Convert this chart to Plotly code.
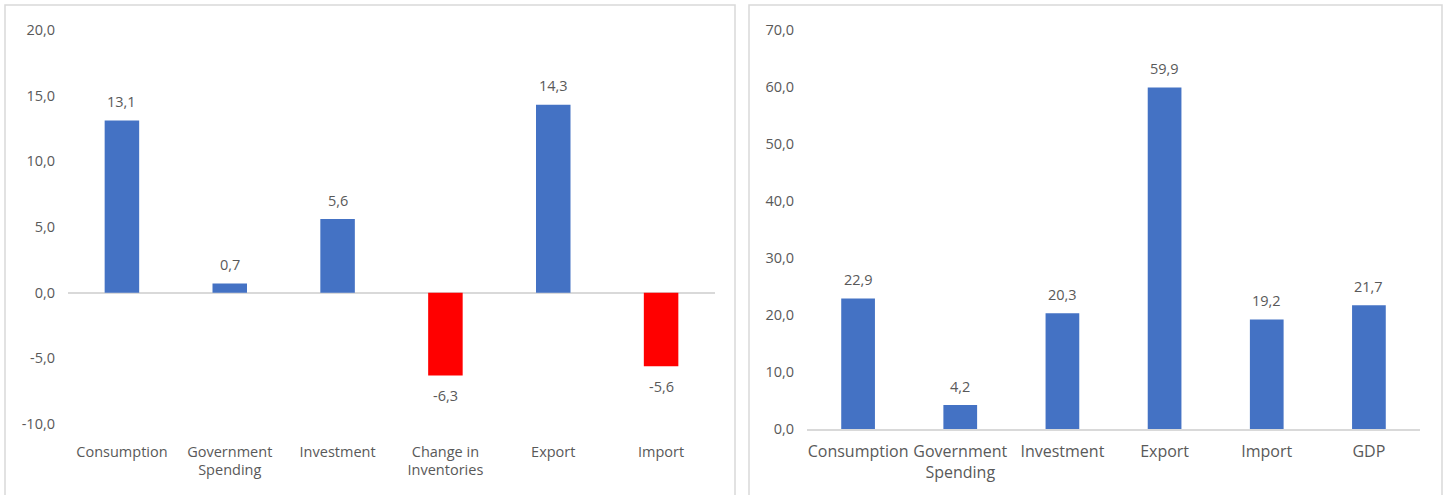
import plotly.graph_objects as go

left_categories = ["Consumption", "Government<br>Spending", "Investment", "Change in<br>Inventories", "Export", "Import"]
left_values = [13.1, 0.7, 5.6, -6.3, 14.3, -5.6]
left_ticks = [-10, -5, 0, 5, 10, 15, 20]
left_tick_labels = ["-10,0", "-5,0", "0,0", "5,0", "10,0", "15,0", "20,0"]

right_categories = ["Consumption", "Government<br>Spending", "Investment", "Export", "Import", "GDP"]
right_values = [22.9, 4.2, 20.3, 59.9, 19.2, 21.7]
right_ticks = [0, 10, 20, 30, 40, 50, 60, 70]
right_tick_labels = ["0,0", "10,0", "20,0", "30,0", "40,0", "50,0", "60,0", "70,0"]

BLUE = "#4472C4"
RED = "#FF0000"
GRAY = "#595959"
FONT = "Open Sans"

left_colors = [BLUE if v >= 0 else RED for v in left_values]

fig = go.Figure()
fig.add_trace(go.Bar(
    x=left_categories, y=left_values, marker=dict(color=left_colors, line=dict(width=0)),
    width=0.32, xaxis="x", yaxis="y", showlegend=False, hoverinfo="skip"))
fig.add_trace(go.Bar(
    x=right_categories, y=right_values, marker=dict(color=BLUE, line=dict(width=0)),
    width=0.33, xaxis="x2", yaxis="y2", showlegend=False, hoverinfo="skip"))


def fmt(v):
    return f"{v:.1f}".replace(".", ",")


annotations = []
for c, v in zip(left_categories, left_values):
    annotations.append(dict(x=c, y=v, xref="x", yref="y", text=fmt(v), showarrow=False,
                            yshift=19 if v >= 0 else -20,
                            font=dict(color=GRAY, size=14.5, family=FONT)))
for c, v in zip(right_categories, right_values):
    annotations.append(dict(x=c, y=v, xref="x2", yref="y2", text=fmt(v), showarrow=False,
                            yshift=19, font=dict(color=GRAY, size=14.5, family=FONT)))

W, H = 1449, 495


def px(x):
    return x / W


def py(y):
    return 1 - y / H


base = dict(showgrid=False, ticks="", automargin=False)

fig.update_layout(
    template="none",
    width=W, height=H, margin=dict(l=0, r=0, t=0, b=0, pad=0),
    paper_bgcolor="white", plot_bgcolor="white",
    font=dict(family=FONT, color=GRAY, size=14),
    xaxis=dict(domain=[px(68), px(715)], anchor="y", showline=False, zeroline=False,
               ticklabelstandoff=17, tickfont=dict(color=GRAY, size=14.5, family=FONT), **base),
    yaxis=dict(domain=[py(424), py(30)], anchor="x", range=[-10, 20],
               tickmode="array", tickvals=left_ticks, ticktext=left_tick_labels,
               zeroline=True, zerolinecolor="#D9D9D9", zerolinewidth=1.5,
               showline=False, ticklabelstandoff=12,
               tickfont=dict(color=GRAY, size=14.5, family=FONT), **base),
    xaxis2=dict(domain=[px(807), px(1420)], anchor="y2", showline=True, linecolor="#D9D9D9",
                linewidth=1.5, zeroline=False, ticklabelstandoff=7,
                tickfont=dict(color=GRAY, size=16, family=FONT), **base),
    yaxis2=dict(domain=[py(429), py(30)], anchor="x2", range=[0, 70],
                tickmode="array", tickvals=right_ticks, ticktext=right_tick_labels,
                zeroline=False, showline=False, ticklabelstandoff=12,
                tickfont=dict(color=GRAY, size=14.5, family=FONT), **base),
    annotations=annotations,
    shapes=[
        dict(type="rect", xref="paper", yref="paper", x0=px(5), x1=px(735), y0=py(5), y1=-0.05,
             line=dict(color="#D9D9D9", width=1.5), fillcolor="rgba(0,0,0,0)", layer="below"),
        dict(type="rect", xref="paper", yref="paper", x0=px(749), x1=px(1442), y0=py(5), y1=-0.05,
             line=dict(color="#D9D9D9", width=1.5), fillcolor="rgba(0,0,0,0)", layer="below"),
    ],
)

fig.write_html("out.html")
